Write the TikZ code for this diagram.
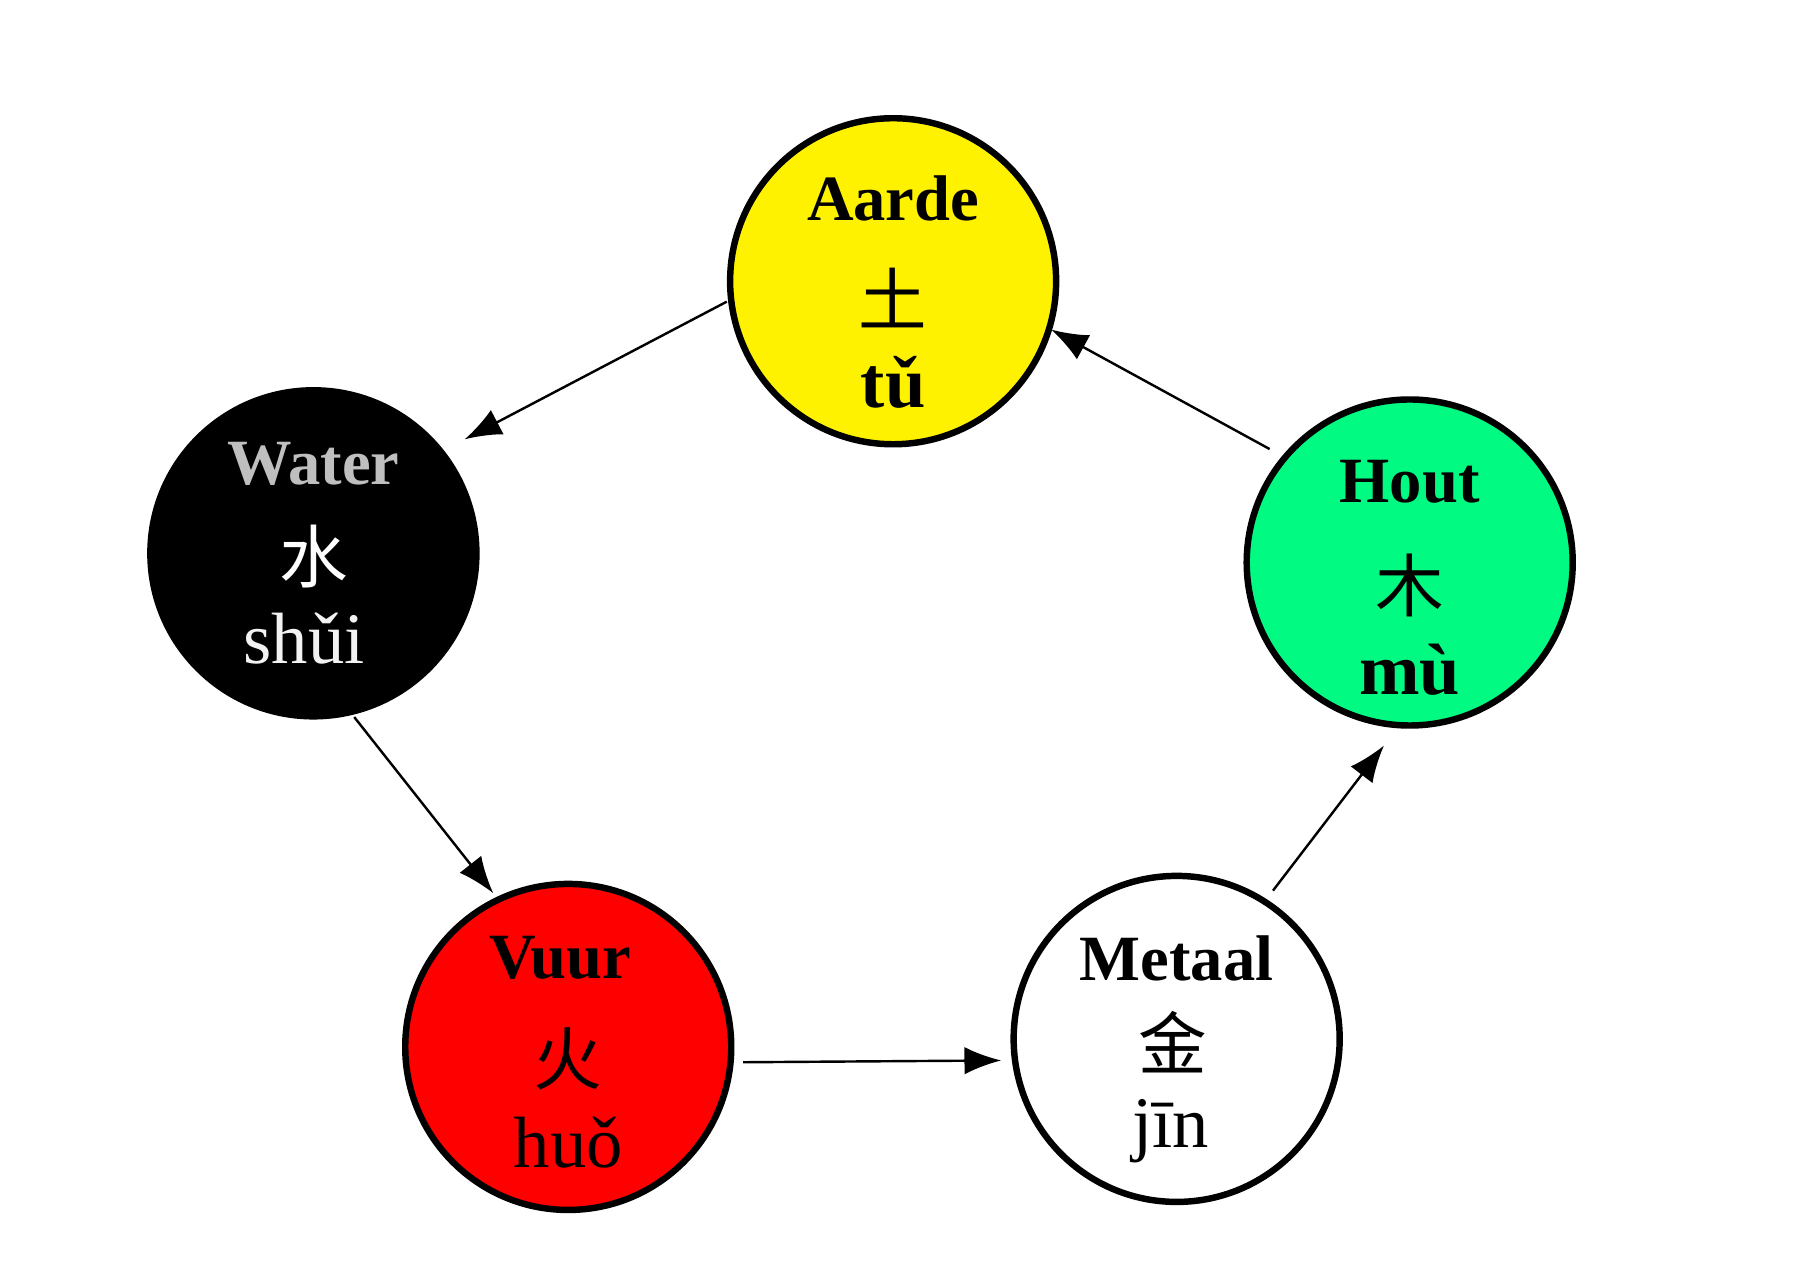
\documentclass[tikz,border=0pt]{standalone}
\usepackage{fontspec}
\setmainfont{Liberation Serif}
\newfontfamily\cjk{Noto Sans CJK SC}
\usetikzlibrary{calc,arrows.meta}
\begin{document}
\begin{tikzpicture}[
    element/.style={circle, draw=black, line width=1.6pt, minimum size=2.84cm, inner sep=0pt},
    pijl/.style={-{Latex[length=3.2mm,width=2.4mm]}, line width=0.6pt},
    naam/.style={font=\fontsize{16}{18}\selectfont\bfseries},
    teken/.style={font=\fontsize{17}{20}\cjk},
    klank/.style={font=\fontsize{18}{20}\selectfont}
]
    % Kader
    \useasboundingbox (0,0) rectangle (15.68,11.2);

    % Elementen
    \node[element, fill=yellow] (aarde) at (7.78,8.75) {};
    \node[element, fill=black] (water) at (2.73,6.38) {};
    \node[element, fill={rgb,255:red,0;green,250;blue,130}] (hout) at (12.28,6.30) {};
    \node[element, fill=red] (vuur) at (4.95,2.08) {};
    \node[element, fill=white] (metaal) at (10.25,2.15) {};

    % Teksten
    \node[naam] (aarde-n) at ($(aarde)+(0,0.72)$) {Aarde};
    \node[teken] (aarde-t) at ($(aarde)+(0,-0.15)$) {土};
    \node[klank, font=\fontsize{18}{20}\selectfont\bfseries] (aarde-k) at ($(aarde)+(0,-0.88)$) {tǔ};

    \node[naam, lightgray] (water-n) at ($(water)+(0,0.78)$) {Water};
    \node[teken, white] (water-t) at ($(water)+(0,-0.03)$) {水};
    \node[klank, white!90!gray] (water-k) at ($(water)+(-0.08,-0.74)$) {shǔi};

    \node[naam] (hout-n) at ($(hout)+(0,0.70)$) {Hout};
    \node[teken] (hout-t) at ($(hout)+(0,-0.2)$) {木};
    \node[klank, font=\fontsize{18}{20}\selectfont\bfseries] (hout-k) at ($(hout)+(0,-0.93)$) {mù};

    \node[naam] (vuur-n) at ($(vuur)+(-0.07,0.78)$) {Vuur};
    \node[teken] (vuur-t) at ($(vuur)+(0,-0.1)$) {火};
    \node[klank] (vuur-k) at ($(vuur)+(0,-0.83)$) {huǒ};

    \node[naam] (metaal-n) at ($(metaal)+(0,0.70)$) {Metaal};
    \node[teken] (metaal-t) at ($(metaal)+(-0.03,-0.03)$) {金};
    \node[klank] (metaal-k) at ($(metaal)+(-0.05,-0.80)$) {jīn};

    % Kringloop
    \coordinate (a1) at ($(aarde)+(187:1.46)$);
    \coordinate (w1) at ($(water)+(37:1.65)$);
    \coordinate (w2) at ($(water)+(-76:1.47)$);
    \coordinate (v1) at ($(vuur)+(116:1.49)$);
    \coordinate (v2) at ($(vuur)+(-5:1.53)$);
    \coordinate (m1) at ($(metaal)+(187:1.54)$);
    \coordinate (m2) at ($(metaal)+(57:1.54)$);
    \coordinate (h1) at ($(hout)+(262:1.61)$);
    \coordinate (h2) at ($(hout)+(141:1.57)$);
    \coordinate (a2) at ($(aarde)+(-17:1.44)$);
    \draw[pijl] (a1) -- (w1);
    \draw[pijl] (w2) -- (v1);
    \draw[pijl] (v2) -- (m1);
    \draw[pijl] (m2) -- (h1);
    \draw[pijl] (h2) -- (a2);
\end{tikzpicture}
\end{document}
